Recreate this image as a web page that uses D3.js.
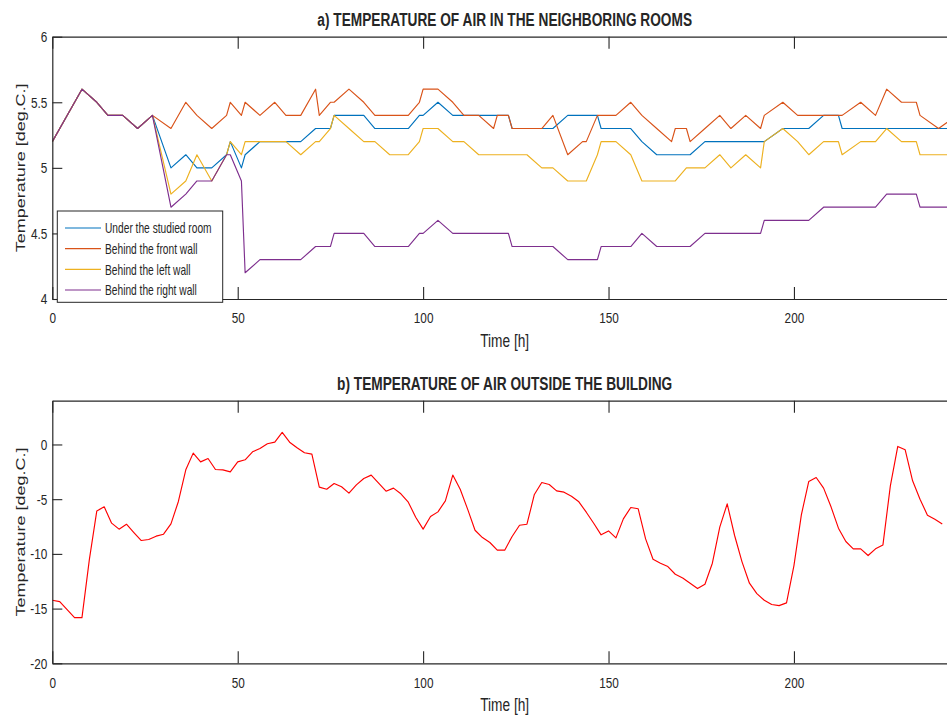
<!DOCTYPE html>
<html>
<head>
<meta charset="utf-8">
<script src="https://cdn.jsdelivr.net/npm/d3@7"></script>
<style>
  html, body { margin: 0; padding: 0; background: #fff; }
  svg { display: block; }
  text { font-family: 'Liberation Sans', Arial, Helvetica, sans-serif; fill: #262626; }
</style>
</head>
<body>
<svg id="chart" width="947" height="717"></svg>
<script>
// ---------------- DATA ----------------
// Panel a) neighbouring rooms (hours of each recorded change)
const roomHours = [0, 8, 12, 15, 19, 23, 27, 32, 36, 39, 43, 47, 48, 51, 52, 56, 60, 63, 67, 71, 72, 75, 76, 80, 84, 87, 91, 96, 99, 100,
  104, 108, 111, 115, 119, 120, 123, 124, 128, 132, 135, 139, 143, 144, 147, 148, 152, 156, 159, 163, 167, 168, 171, 172, 176, 180,
  183, 187, 191, 192, 197, 201, 204, 208, 212, 213, 218, 222, 225, 229, 233, 234, 239, 244];

const underRoom = [5.2, 5.6, 5.5, 5.4, 5.4, 5.3, 5.4, 5.0, 5.1, 5.0, 5.0, 5.1, 5.2, 5.0, 5.1, 5.2, 5.2, 5.2, 5.2, 5.3, 5.3, 5.3, 5.4, 5.4, 5.4, 5.3, 5.3, 5.3, 5.4, 5.4,
  5.5, 5.4, 5.4, 5.4, 5.4, 5.4, 5.4, 5.3, 5.3, 5.3, 5.3, 5.4, 5.4, 5.4, 5.4, 5.3, 5.3, 5.3, 5.2, 5.1, 5.1, 5.1, 5.1, 5.1, 5.2, 5.2,
  5.2, 5.2, 5.2, 5.2, 5.3, 5.3, 5.3, 5.4, 5.4, 5.3, 5.3, 5.3, 5.3, 5.3, 5.3, 5.3, 5.3, 5.3];

const frontWall = [5.2, 5.6, 5.5, 5.4, 5.4, 5.3, 5.4, 5.3, 5.5, 5.4, 5.3, 5.4, 5.5, 5.4, 5.5, 5.4, 5.5, 5.4, 5.4, 5.6, 5.4, 5.5, 5.5, 5.6, 5.5, 5.4, 5.4, 5.4, 5.5, 5.6,
  5.6, 5.5, 5.4, 5.4, 5.3, 5.4, 5.4, 5.3, 5.3, 5.3, 5.4, 5.1, 5.2, 5.2, 5.4, 5.4, 5.4, 5.5, 5.4, 5.3, 5.2, 5.3, 5.3, 5.2, 5.3, 5.4,
  5.3, 5.4, 5.3, 5.4, 5.5, 5.4, 5.4, 5.4, 5.4, 5.4, 5.5, 5.4, 5.6, 5.5, 5.5, 5.4, 5.3, 5.4];

const leftWall = [5.2, 5.6, 5.5, 5.4, 5.4, 5.3, 5.4, 4.8, 4.9, 5.1, 4.9, 5.1, 5.2, 5.1, 5.2, 5.2, 5.2, 5.2, 5.1, 5.2, 5.2, 5.3, 5.4, 5.3, 5.2, 5.2, 5.1, 5.1, 5.2, 5.3,
  5.3, 5.2, 5.2, 5.1, 5.1, 5.1, 5.1, 5.1, 5.1, 5.0, 5.0, 4.9, 4.9, 4.9, 5.1, 5.2, 5.2, 5.1, 4.9, 4.9, 4.9, 4.9, 5.0, 5.0, 5.0, 5.1,
  5.0, 5.1, 5.0, 5.2, 5.3, 5.2, 5.1, 5.2, 5.2, 5.1, 5.2, 5.2, 5.3, 5.2, 5.2, 5.1, 5.1, 5.1];

const rightWall = [5.2, 5.6, 5.5, 5.4, 5.4, 5.3, 5.4, 4.7, 4.8, 4.9, 4.9, 5.1, 5.1, 4.9, 4.2, 4.3, 4.3, 4.3, 4.3, 4.4, 4.4, 4.4, 4.5, 4.5, 4.5, 4.4, 4.4, 4.4, 4.5, 4.5,
  4.6, 4.5, 4.5, 4.5, 4.5, 4.5, 4.5, 4.4, 4.4, 4.4, 4.4, 4.3, 4.3, 4.3, 4.3, 4.4, 4.4, 4.4, 4.5, 4.4, 4.4, 4.4, 4.4, 4.4, 4.5, 4.5,
  4.5, 4.5, 4.5, 4.6, 4.6, 4.6, 4.6, 4.7, 4.7, 4.7, 4.7, 4.7, 4.8, 4.8, 4.8, 4.7, 4.7, 4.7];

const roomSeriesNames = ["Under the studied room", "Behind the front wall", "Behind the left wall", "Behind the right wall"];
const roomColors = ["#0072BD", "#D95319", "#EDB120", "#7E2F8E"];

// Panel b) outside air, every 2 hours
const outsideHours = [0, 2, 4, 6, 8, 10, 12, 14, 16, 18, 20, 22, 24, 26, 28, 30, 32, 34, 36, 38, 40, 42, 44, 46, 48, 50,
  52, 54, 56, 58, 60, 62, 64, 66, 68, 70, 72, 74, 76, 78, 80, 82, 84, 86, 88, 90, 92, 94, 96, 98, 100,
  102, 104, 106, 108, 110, 112, 114, 116, 118, 120, 122, 124, 126, 128, 130, 132, 134, 136, 138, 140, 142, 144, 146, 148, 150,
  152, 154, 156, 158, 160, 162, 164, 166, 168, 170, 172, 174, 176, 178, 180, 182, 184, 186, 188, 190, 192, 194, 196, 198, 200,
  202, 204, 206, 208, 210, 212, 214, 216, 218, 220, 222, 224, 226, 228, 230, 232, 234, 236, 238, 240];

const outsideTemp = [-14.24, -14.36, -15.1, -15.82, -15.82, -10.5, -6.07, -5.70, -7.19, -7.74, -7.29, -8.05, -8.78, -8.69, -8.38, -8.2, -7.26, -5.21, -2.32, -0.79, -1.59, -1.28, -2.29, -2.32, -2.5, -1.59,
  -1.40, -0.67, -0.37, 0.06, 0.21, 1.10, 0.21, -0.30, -0.76, -0.88, -3.90, -4.09, -3.57, -3.87, -4.45, -3.69, -3.11, -2.80, -3.54, -4.27, -3.99, -4.51, -5.27, -6.65, -7.74,
  -6.59, -6.16, -5.15, -2.80, -4.09, -5.91, -7.84, -8.51, -8.96, -9.66, -9.66, -8.41, -7.38, -7.29, -4.57, -3.48, -3.66, -4.24, -4.36, -4.73, -5.24, -6.19, -7.20, -8.26, -7.90,
  -8.54, -6.80, -5.76, -5.88, -8.63, -10.49, -10.85, -11.16, -11.86, -12.20, -12.68, -13.17, -12.77, -10.85, -7.56, -5.43, -8.32, -10.73, -12.68, -13.63, -14.24, -14.63, -14.73, -14.48, -11.07,
  -6.43, -3.38, -3.02, -3.99, -5.70, -7.65, -8.87, -9.54, -9.54, -10.15, -9.54, -9.18, -3.78, -0.18, -0.49, -3.32, -5.0, -6.46, -6.83, -7.26];

const xTicks = [0, 50, 100, 150, 200];
const yTicksRooms = [4, 4.5, 5, 5.5, 6];
const yTicksOutside = [-20, -15, -10, -5, 0];
const titleA = "a) TEMPERATURE OF AIR IN THE NEIGHBORING ROOMS";
const titleB = "b) TEMPERATURE OF AIR OUTSIDE THE BUILDING";
const xLabel = "Time [h]";
const yLabel = "Temperature [deg.C.]";

// ---------------- DRAWING ----------------
const K = 0.76; // horizontal text compression seen in the reference
const AX = "#262626";
const svg = d3.select("#chart");
svg.append("rect").attr("width", 947).attr("height", 717).attr("fill", "#fff");

function squeeze(sel, k = K) {
  sel.each(function () {
    const L = this.getComputedTextLength();
    if (L > 0) {
      this.setAttribute("textLength", (L * k).toFixed(2));
      this.setAttribute("lengthAdjust", "spacingAndGlyphs");
    }
  });
}

const left = 52.3, right = 957.1;
const x = d3.scaleLinear().domain([0, 244]).range([left, right]);

function panel(opts) {
  const y = d3.scaleLinear().domain(opts.yDomain).range([opts.bottom, opts.top]);
  const g = svg.append("g");
  const clipId = "clip" + opts.id;
  svg.append("clipPath").attr("id", clipId).append("rect")
    .attr("x", left).attr("y", opts.top).attr("width", right - left).attr("height", opts.bottom - opts.top);

  const lines = g.append("g").attr("clip-path", `url(#${clipId})`);
  opts.series.forEach(s => {
    const pts = s.xs.map((h, i) => [h, s.ys[i]]);
    lines.append("path")
      .attr("d", d3.line().x(d => x(d[0])).y(d => y(d[1]))(pts))
      .attr("fill", "none").attr("stroke", s.color).attr("stroke-width", 1.15)
      .attr("stroke-linejoin", "round");
  });

  // axes
  const xb = g.append("g").attr("transform", `translate(0,${opts.bottom})`)
    .call(d3.axisBottom(x).tickValues(xTicks).tickSize(-12).tickSizeOuter(0).tickPadding(opts.xPad).tickFormat(d => String(d)));
  const xt = g.append("g").attr("transform", `translate(0,${opts.top})`)
    .call(d3.axisTop(x).tickValues(xTicks).tickSize(-12).tickSizeOuter(0).tickFormat(""));
  const yl = g.append("g").attr("transform", `translate(${left},0)`)
    .call(d3.axisLeft(y).tickValues(opts.yTicks).tickSize(-10).tickSizeOuter(0).tickPadding(5).tickFormat(d => String(d)));
  [xb, xt, yl].forEach(a => {
    a.selectAll("path.domain").attr("stroke", AX).attr("stroke-width", 1.2);
    a.selectAll(".tick line").attr("stroke", AX).attr("stroke-width", 1.1);
    a.selectAll(".tick text").attr("fill", AX).style("font-size", "15.5px")
      .style("font-family", "'Liberation Sans', Arial, sans-serif");
    squeeze(a.selectAll(".tick text"));
  });

  // title
  const t = svg.append("text").attr("x", (left + right) / 2).attr("y", opts.top - 10.5)
    .attr("text-anchor", "middle").style("font-weight", "bold").style("font-size", "18px")
    .attr("fill", "#000").text(opts.title);
  squeeze(t);

  // x label
  const xl = svg.append("text").attr("x", (left + right) / 2).attr("y", opts.bottom + 47.5)
    .attr("text-anchor", "middle").style("font-size", "18px").text(xLabel);
  squeeze(xl);

  // y label (compressed horizontally on screen)
  svg.append("text")
    .attr("transform", `translate(24.5,${(opts.top + opts.bottom) / 2}) scale(${K},1) rotate(-90)`)
    .attr("text-anchor", "middle").style("font-size", "18px").text(yLabel);

  return { y, g };
}

const pa = panel({
  id: "a", top: 36.7, bottom: 299, yDomain: [4, 6], yTicks: yTicksRooms, xPad: 12.5, title: titleA,
  series: [underRoom, frontWall, leftWall, rightWall].map((ys, i) => ({ xs: roomHours, ys, color: roomColors[i] }))
});

const pb = panel({
  id: "b", top: 400.7, bottom: 663.3, yDomain: [-20, 4], yTicks: yTicksOutside, xPad: 14, title: titleB,
  series: [{ xs: outsideHours, ys: outsideTemp, color: "#FF0000" }]
});

// legend for panel a
const lg = svg.append("g");
lg.append("rect").attr("x", 57.3).attr("y", 211).attr("width", 165.4).attr("height", 91.3)
  .attr("fill", "#fff").attr("stroke", AX).attr("stroke-width", 1);
roomSeriesNames.forEach((name, i) => {
  const cy = 228 + i * 20.67;
  lg.append("line").attr("x1", 65).attr("x2", 101).attr("y1", cy).attr("y2", cy)
    .attr("stroke", roomColors[i]).attr("stroke-width", 1.15);
  const tx = lg.append("text").attr("x", 105).attr("y", cy).attr("dy", "0.36em")
    .style("font-size", "15px").attr("fill", "#000").text(name);
  squeeze(tx, 0.68);
});
</script>
</body>
</html>
